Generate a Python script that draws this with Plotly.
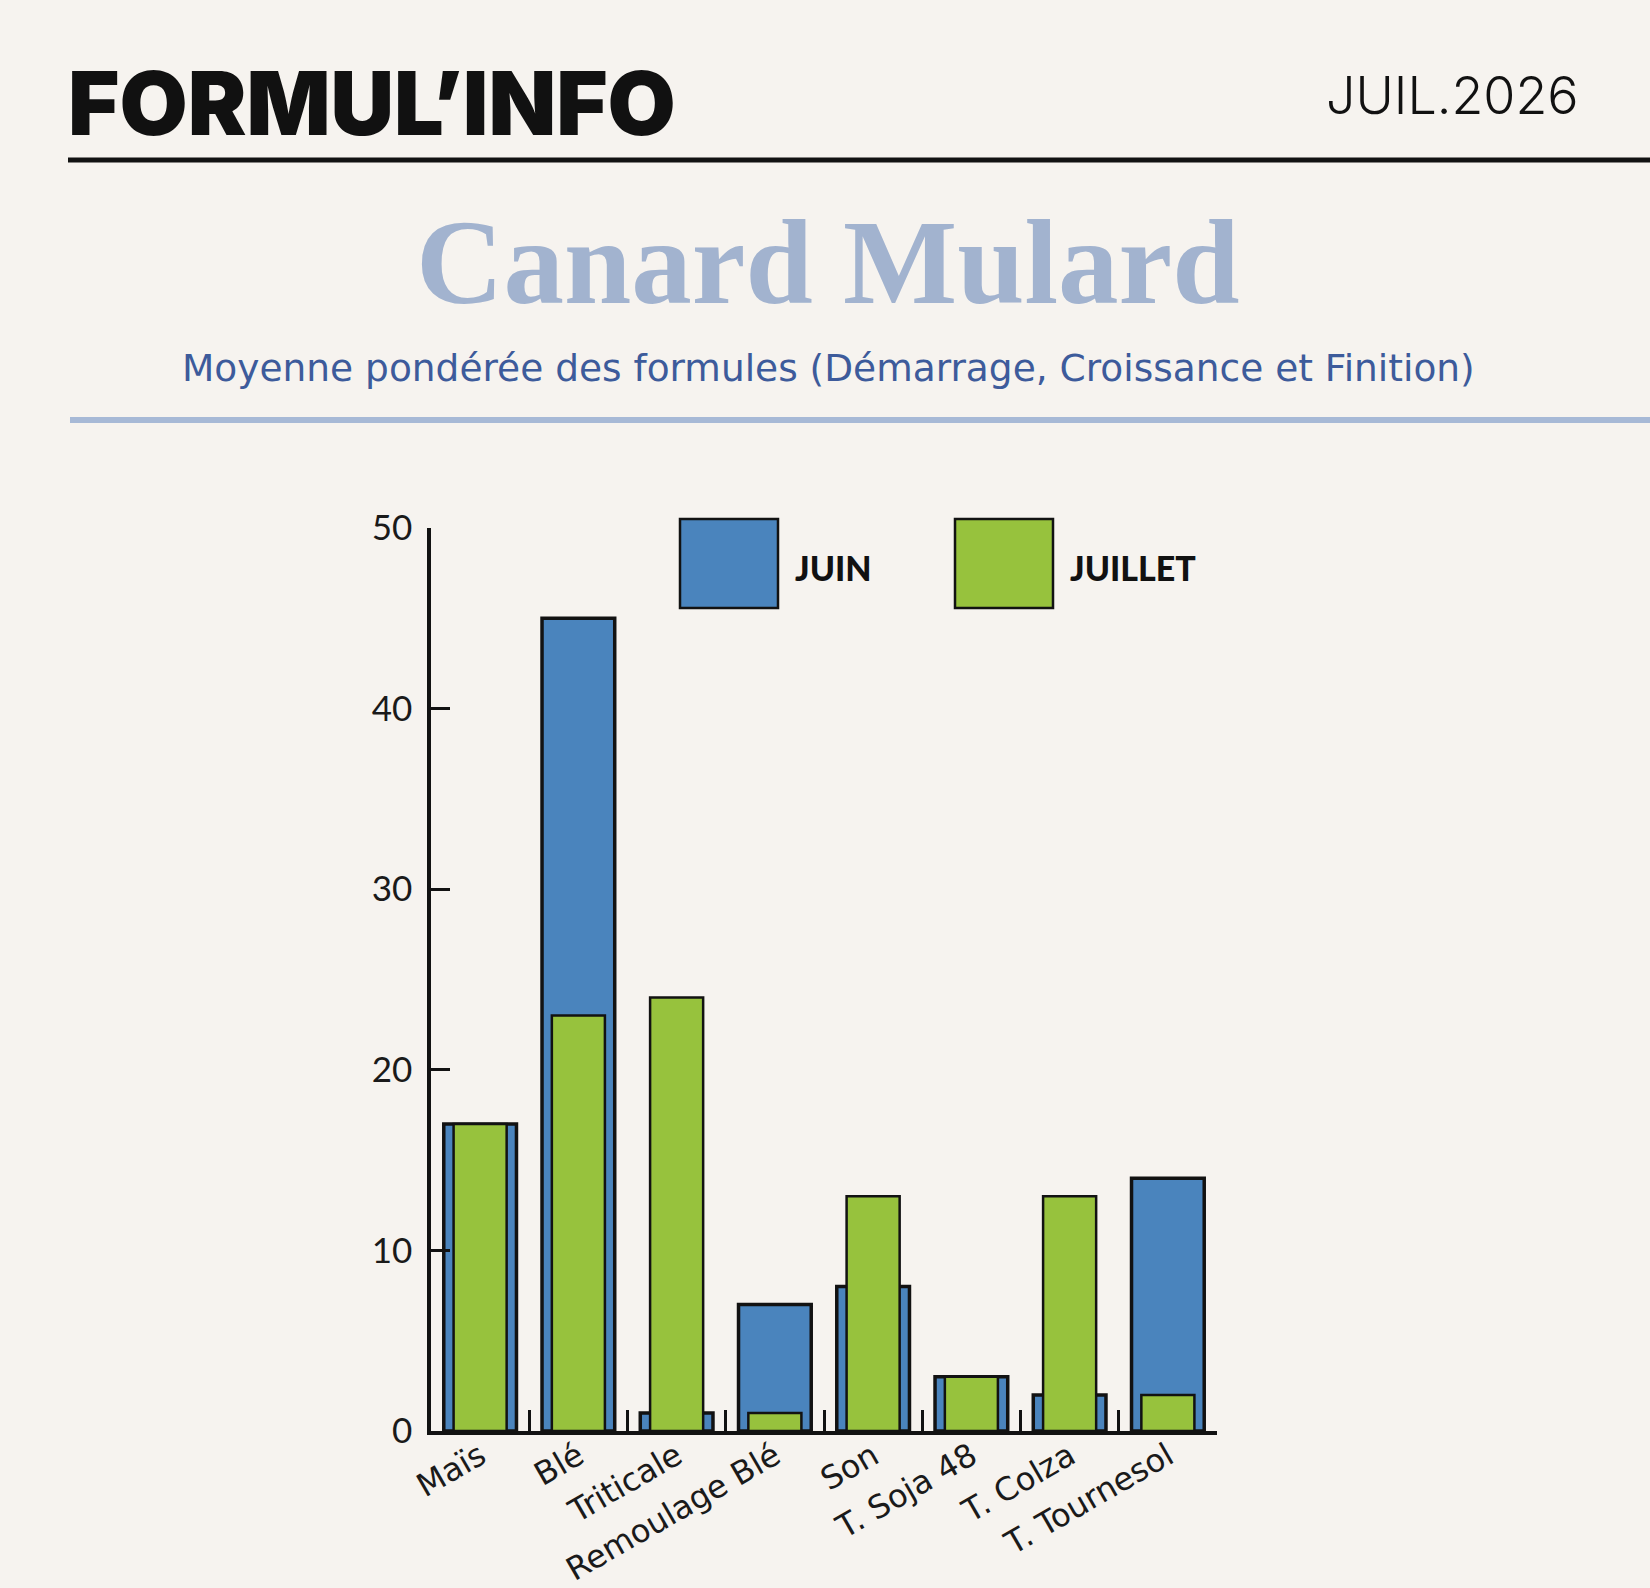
import plotly.graph_objects as go

categories = ["Maïs", "Blé", "Triticale", "Remoulage Blé", "Son", "T. Soja 48", "T. Colza", "T. Tournesol"]
juin = [17, 45, 1, 7, 8, 3, 2, 14]
juillet = [17, 23, 24, 1, 13, 3, 13, 2]
series_names = ["JUIN", "JUILLET"]
y_ticks = [0, 10, 20, 30, 40, 50]

W, H = 1650, 1588
L, R, T, B = 431, 433, 528, 157
PW, PH = W - L - R, H - T - B

def px(x):
    return (x - L) / PW

def py(y):
    return (H - B - y) / PH

BG = "#f6f3ef"
BLUE = "#4a84bd"
GREEN = "#97c23d"
DARK = "#121212"

fig = go.Figure()
fig.add_trace(go.Bar(x=categories, y=juin, name=series_names[0], width=0.74,
                     marker=dict(color=BLUE, line=dict(color=DARK, width=3.5)),
                     showlegend=False))
fig.add_trace(go.Bar(x=categories, y=juillet, name=series_names[1], width=0.54,
                     marker=dict(color=GREEN, line=dict(color=DARK, width=2.5)),
                     showlegend=False))

shapes = [
    dict(type="line", xref="paper", yref="paper", x0=px(68), x1=px(1650), y0=py(160), y1=py(160),
         line=dict(color=DARK, width=5)),
    dict(type="line", xref="paper", yref="paper", x0=px(70), x1=px(1650), y0=py(420), y1=py(420),
         line=dict(color="#a7b9d6", width=6)),
    dict(type="rect", xref="paper", yref="paper", x0=px(680), x1=px(778), y0=py(608), y1=py(519),
         fillcolor=BLUE, line=dict(color=DARK, width=2.5)),
    dict(type="rect", xref="paper", yref="paper", x0=px(955), x1=px(1053), y0=py(608), y1=py(519),
         fillcolor=GREEN, line=dict(color=DARK, width=2.5)),
]

annotations = [
    dict(text="FORMUL’INFO", xref="paper", yref="paper", x=px(66), y=py(103),
         xanchor="left", yanchor="middle", showarrow=False,
         font=dict(family="Inter", size=88, color="#111111", weight=900)),
    dict(text="JUIL.2026", xref="paper", yref="paper", x=px(1581), y=py(95),
         xanchor="right", yanchor="middle", showarrow=False,
         font=dict(family="Inter", size=52, color="#111111", weight=300)),
    dict(text="Canard Mulard", xref="paper", yref="paper", x=px(828), y=py(262),
         xanchor="center", yanchor="middle", showarrow=False,
         font=dict(family="Liberation Serif", size=121, color="#a2b3cf", weight=700)),
    dict(text="Moyenne pondérée des formules (Démarrage, Croissance et Finition)", xref="paper", yref="paper",
         x=px(828), y=py(368), xanchor="center", yanchor="middle", showarrow=False,
         font=dict(family="DejaVu Sans", size=37.5, color="#3d5b9b")),
    dict(text="JUIN", xref="paper", yref="paper", x=px(793), y=py(567),
         xanchor="left", yanchor="middle", showarrow=False,
         font=dict(family="Lato", size=34, color="#111111", weight=900)),
    dict(text="JUILLET", xref="paper", yref="paper", x=px(1068), y=py(567),
         xanchor="left", yanchor="middle", showarrow=False,
         font=dict(family="Lato", size=34, color="#111111", weight=900)),
]

fig.update_layout(
    width=W, height=H,
    margin=dict(l=L, r=R, t=T, b=B, pad=0),
    paper_bgcolor=BG, plot_bgcolor=BG,
    barmode="overlay",
    shapes=shapes,
    annotations=annotations,
    font=dict(family="Lato", color="#1a1a1a"),
    xaxis=dict(range=[-0.5, 7.5], showline=True, linecolor=DARK, linewidth=4,
               ticks="inside", tickson="boundaries", ticklen=21, tickwidth=3, tickcolor=DARK,
               tickangle=-30, tickfont=dict(size=32, family="DejaVu Sans", color="#1a1a1a"),
               ticklabelstandoff=-10,
               showgrid=False, zeroline=False, fixedrange=True, automargin=False),
    yaxis=dict(range=[0, 50], tickvals=y_ticks, showline=True, linecolor=DARK, linewidth=3.5,
               ticks="inside", ticklen=19, tickwidth=3, tickcolor=DARK,
               tickfont=dict(size=35, family="Lato", color="#1a1a1a"), ticklabelstandoff=8,
               showgrid=False, zeroline=False, fixedrange=True, automargin=False),
)

fig.write_html("out.html")
